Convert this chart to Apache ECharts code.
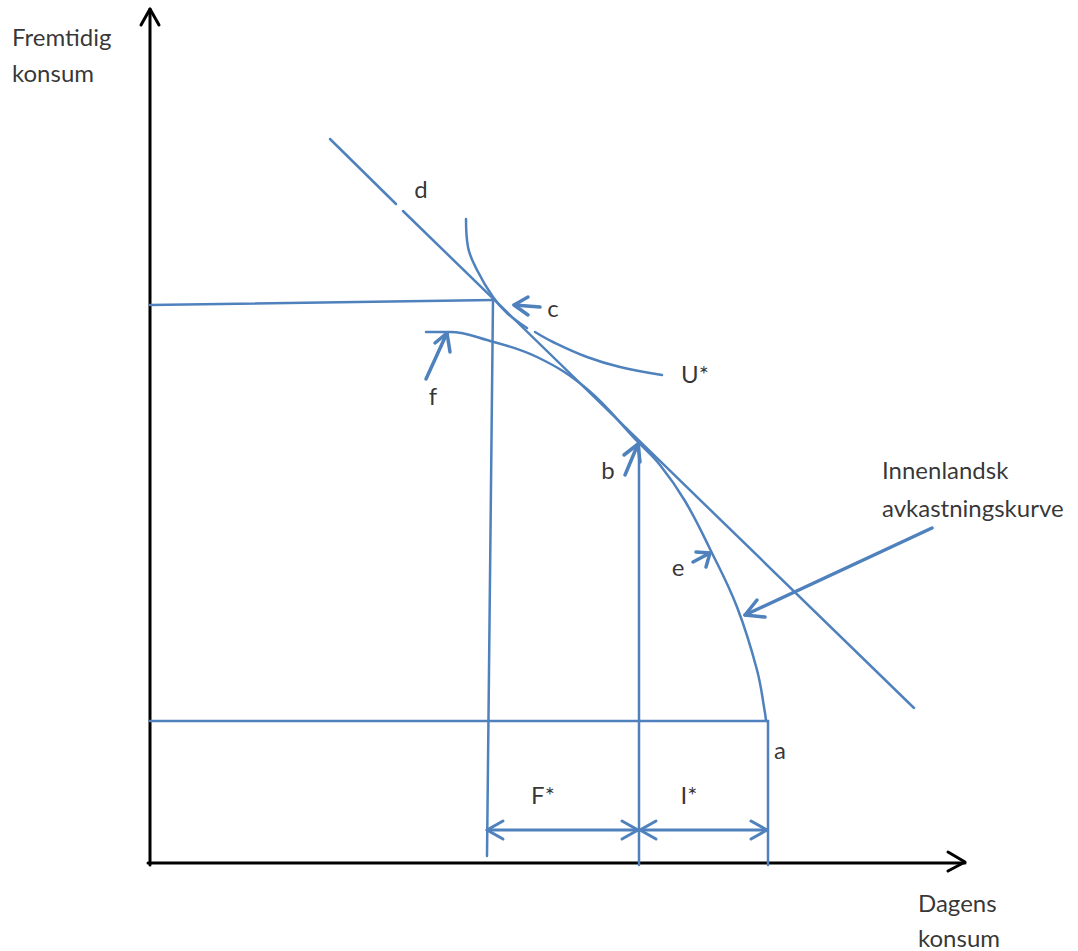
<!DOCTYPE html>
<html>
<head>
<meta charset="utf-8">
<script src="https://cdn.jsdelivr.net/npm/echarts@6/dist/echarts.min.js"></script>
<style>html,body{margin:0;padding:0;background:#fff}#chart{width:1078px;height:951px}</style>
</head>
<body>
<div id="chart"></div>
<script>
// Data coordinates: origin at the intersection of the axes, one unit ≈ one pixel.
// Axes
const yAxisLine = [[0, -2], [0, 854]];
const yAxisHead = [[-9, 838], [0, 854], [9, 838]];
const xAxisLine = [[-2, 0], [815, 0]];
const xAxisHead = [[798, 11], [815, 1], [798, -8]];

// Budget (tangent) line, interrupted near the "d" label
const budgetLineA = [[180, 724], [246, 659]];
const budgetLineB = [[253, 652], [764, 155]];

// Indifference curve U*, interrupted near the "c" label
const uCurveA = [[316, 644], [318, 616], [327, 593], [343, 566], [357, 550], [377, 535]];
const uCurveB = [[385, 531], [403, 521], [437, 506], [470, 496], [512, 488]];

// Domestic return curve (production frontier) from f to a
const frontier = [[276, 531], [300, 531], [337, 523], [387, 506], [437, 474], [488, 421], [510, 398], [535, 362], [560, 314], [587, 256], [607, 193], [615, 150], [616, 142]];

// Guide lines
const topHorizontal = [[0, 558], [343, 563]];
const cVertical = [[343, 563], [337, 7]];
const bottomHorizontal = [[0, 142], [618, 142]];
const bVertical = [[489, 421], [489, -2]];
const aVertical = [[618, 142], [618, -2]];

// Pointer arrows: shaft [tail, tip] and head [barb, tip, barb]
const arrowC = { shaft: [[390, 556], [364, 558]], head: [[378, 566], [364, 558], [378, 548]] };
const arrowF = { shaft: [[276, 484], [297, 530]], head: [[285, 520], [297, 530], [300, 511]] };
const arrowB = { shaft: [[475, 388], [488, 419]], head: [[474, 408], [488, 419], [490, 401]] };
const arrowE = { shaft: [[543, 301], [560, 310]], head: [[546, 311], [560, 310], [556, 296]] };
const arrowCurve = { shaft: [[782, 335], [595, 248]], head: [[607, 263], [595, 248], [615, 246]] };

// Dimension arrows F* and I*
const dimF = { shaft: [[337, 33], [488, 33]], headL: [[353, 42], [337, 33], [353, 24]], headR: [[472, 42], [488, 33], [472, 24]] };
const dimI = { shaft: [[490, 33], [617, 33]], headL: [[506, 42], [490, 33], [506, 24]], headR: [[601, 42], [617, 33], [601, 24]] };

// Text labels [text, x, y, align]
const pointLabels = [
  ['d', 271, 675, 'center'],
  ['c', 403, 556, 'center'],
  ['U*', 545, 490, 'center'],
  ['f', 283, 468, 'center'],
  ['b', 458, 394, 'center'],
  ['e', 528, 297, 'center'],
  ['a', 630, 114, 'center'],
  ['F*', 393, 69, 'center'],
  ['I*', 539, 69, 'center'],
  ['Innenlandsk', 732, 394, 'left'],
  ['avkastningskurve', 732, 356, 'left'],
  ['Fremtidig', -138, 827, 'left'],
  ['konsum', -138, 791, 'left'],
  ['Dagens', 768, -39, 'left'],
  ['konsum', 768, -74, 'left']
];

const BLUE = '#4F81BD';
const series = [];
function line(data, color, width, smooth) {
  series.push({
    type: 'line', data: data, showSymbol: false, symbol: 'none', smooth: smooth || false,
    lineStyle: { color: color, width: width, cap: 'round', join: 'round' },
    silent: true, z: 2
  });
}
// axes
line(yAxisLine, '#000', 3); line(yAxisHead, '#000', 3);
line(xAxisLine, '#000', 3); line(xAxisHead, '#000', 3);
// curves and lines
line(budgetLineA, BLUE, 2.5); line(budgetLineB, BLUE, 2.5);
line(uCurveA, BLUE, 2.5, 0.4); line(uCurveB, BLUE, 2.5, 0.4);
line(frontier, BLUE, 2.5, 0.4);
line(topHorizontal, BLUE, 2.5); line(cVertical, BLUE, 2.5);
line(bottomHorizontal, BLUE, 2.5); line(bVertical, BLUE, 2.5); line(aVertical, BLUE, 2.5);
[arrowC, arrowF, arrowB, arrowE, arrowCurve].forEach(a => { line(a.shaft, BLUE, 3.5); line(a.head, BLUE, 3.5); });
[dimF, dimI].forEach(a => { line(a.shaft, BLUE, 3); line(a.headL, BLUE, 3); line(a.headR, BLUE, 3); });

series.push({
  type: 'scatter', symbolSize: 0, silent: true, z: 5,
  data: pointLabels.map(l => ({
    value: [l[1], l[2]],
    label: { show: true, position: 'inside', formatter: l[0], align: l[3], verticalAlign: 'middle',
      color: '#000', fontFamily: 'Lato', fontSize: 24 }
  }))
});

const chart = echarts.init(document.getElementById('chart'), null, { renderer: 'svg' });
chart.setOption({
  animation: false,
  backgroundColor: '#fff',
  grid: { left: 0, right: 0, top: 0, bottom: 0 },
  xAxis: { type: 'value', min: -150, max: 928, show: false },
  yAxis: { type: 'value', min: -88, max: 863, show: false },
  series: series
});
</script>
</body>
</html>
